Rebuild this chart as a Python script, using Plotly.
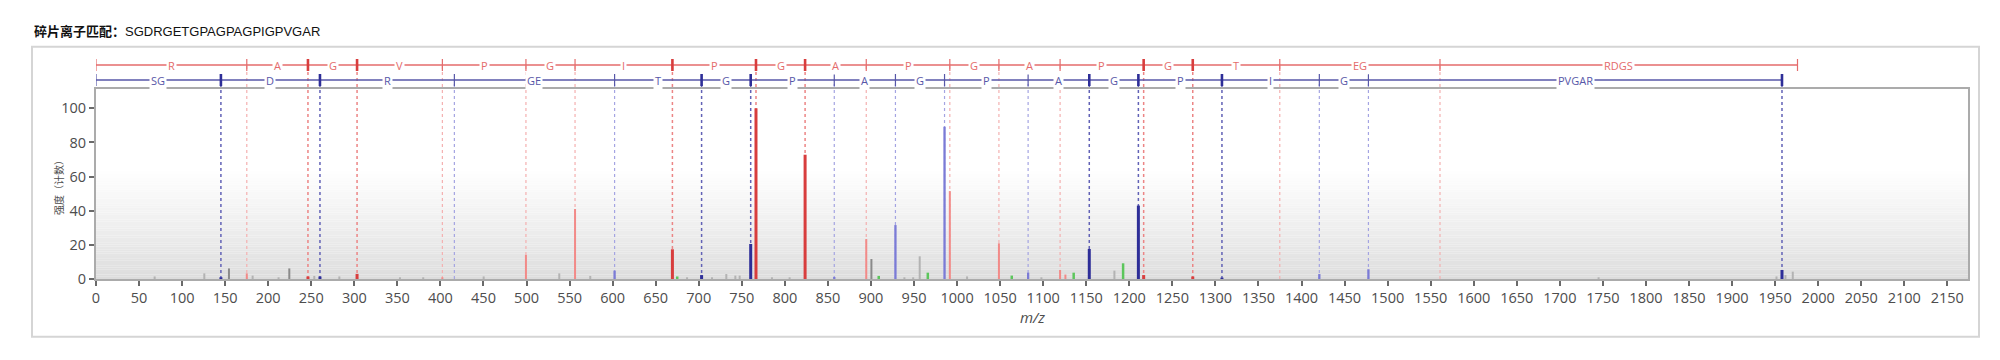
import plotly.graph_objects as go

# ---------------- data ----------------
title_bold = "碎片离子匹配："
peptide = "SGDRGETGPAGPAGPIGPVGAR"

# y-ion ladder (red, top row)
y_ion_mz = [0.0, 175.119, 246.156, 303.177, 402.246, 499.299, 556.320, 669.404, 766.457,
            823.478, 894.515, 991.568, 1048.589, 1119.626, 1216.679, 1273.700, 1374.748,
            1560.812, 1975.996]
y_ion_labels = ["R", "A", "G", "V", "P", "G", "I", "P", "G", "A", "P", "G", "A", "P", "G",
                "T", "EG", "RDGS"]
y_ion_strong = [0, 0, 1, 1, 0, 0, 0, 1, 1, 1, 0, 0, 0, 0, 1, 1, 0, 0, 0]

# b-ion ladder (blue, second row)
b_ion_mz = [0.0, 145.061, 260.088, 416.189, 602.253, 703.301, 760.322, 857.375, 928.412,
            985.433, 1082.486, 1153.523, 1210.544, 1307.597, 1420.681, 1477.702, 1957.982]
b_ion_labels = ["SG", "D", "R", "GE", "T", "G", "P", "A", "G", "P", "A", "G", "P", "I", "G",
                "PVGAR"]
b_ion_strong = [0, 1, 1, 0, 0, 1, 1, 0, 0, 0, 0, 1, 1, 1, 0, 0, 1]

# spectrum peaks (m/z, relative intensity)
red_strong_mz = [246.16, 303.18, 669.40, 766.46, 823.48, 1216.68, 1273.70]
red_strong_int = [1.5, 3.0, 17.4, 100.0, 72.8, 2.3, 1.5]
red_weak_mz = [175.12, 402.25, 499.30, 556.32, 894.52, 991.57, 1048.59, 1119.63, 1125.8]
red_weak_int = [3.3, 1.0, 14.1, 41.0, 23.4, 51.5, 20.9, 5.3, 2.6]
blue_strong_mz = [145.06, 260.09, 703.30, 760.32, 1153.52, 1210.54, 1307.60, 1957.98]
blue_strong_int = [1.0, 1.5, 2.3, 20.5, 17.6, 43.0, 0.8, 5.3]
blue_weak_mz = [602.25, 857.38, 928.41, 985.43, 1082.49, 1420.68, 1477.70]
blue_weak_int = [4.9, 1.2, 31.6, 89.2, 3.7, 2.9, 5.7]
green_mz = [675.0, 909.0, 966.0, 1063.5, 1135.4, 1192.8]
green_int = [1.5, 1.8, 3.7, 2.0, 3.7, 9.2]
gray_dark_mz = [154.4, 224.5, 900.5]
gray_dark_int = [6.2, 6.2, 11.7]
gray_light_mz = [68.1, 125.8, 181.9, 212.0, 253.5, 282.6, 353.0, 380.0, 450.2, 538.0, 574.0,
                 686.4, 715.4, 732.0, 742.5, 747.5, 785.0, 805.5, 938.8, 949.0, 956.6,
                 1011.6, 1097.9, 1182.7, 1745.0, 1951.6, 1962.0, 1970.5]
gray_light_int = [1.5, 3.3, 2.0, 1.0, 1.8, 1.5, 1.0, 1.0, 1.5, 3.3, 1.8,
                  1.0, 1.0, 2.9, 2.0, 2.0, 1.0, 1.0, 1.0, 1.0, 13.3,
                  1.5, 1.0, 4.9, 1.0, 1.5, 2.3, 4.3]

x_tick_step = 50
y_tick_vals = [0, 20, 40, 60, 80, 100]

# ---------------- style ----------------
RED = "#e46b6b"
RED_DARK = "#d83d3d"
RED_LIGHT = "#f28a88"
BLUE = "#5757a8"
BLUE_DARK = "#2e2e98"
BLUE_LIGHT = "#7b7bd6"
GREEN = "#5cc65c"
GRAY_D = "#8a8a8a"
GRAY_L = "#b3b3b3"
TXT = "#4d4d4d"

W, H = 2000, 360
ML, MR, MT, MB = 96, 32, 89, 81
PH = H - MT - MB  # plot height in px
PW = W - ML - MR


def py(px_from_top):
    """page y pixel -> paper coordinate"""
    return (H - MB - px_from_top) / PH


def px(px_from_left):
    return (px_from_left - ML) / PW


def sticks(mz, inten):
    xs, ys = [], []
    for m, v in zip(mz, inten):
        xs += [m, m, None]
        ys += [0, v, None]
    return xs, ys


fig = go.Figure()

groups = [
    (gray_light_mz, gray_light_int, GRAY_L, 2),
    (gray_dark_mz, gray_dark_int, GRAY_D, 2),
    (green_mz, green_int, GREEN, 2.5),
    (red_weak_mz, red_weak_int, RED_LIGHT, 2),
    (blue_weak_mz, blue_weak_int, BLUE_LIGHT, 2.3),
    (red_strong_mz, red_strong_int, RED_DARK, 3),
    (blue_strong_mz, blue_strong_int, BLUE_DARK, 3),
]
for mz, inten, col, w in groups:
    xs, ys = sticks(mz, inten)
    fig.add_trace(go.Scatter(x=xs, y=ys, mode="lines", line=dict(color=col, width=w),
                             hoverinfo="skip", showlegend=False))

shapes = []
# gradient background of plot area
nb = 48
top_frac = 0.58
for i in range(nb):
    y0 = top_frac * i / nb
    y1 = top_frac * (i + 1) / nb
    t = (i + 0.5) / nb
    g = int(round(219 + (255 - 219) * (t ** 0.85)))
    shapes.append(dict(type="rect", xref="paper", yref="paper", x0=0, x1=1, y0=y0, y1=y1,
                       fillcolor=f"rgb({g},{g},{g})", line=dict(width=0), layer="below"))

# outer frame
shapes.append(dict(type="rect", xref="paper", yref="paper", x0=px(32), x1=px(1979),
                   y0=py(336.7), y1=py(46.7), line=dict(color="#d5d5d5", width=2),
                   fillcolor="rgba(0,0,0,0)", layer="below"))

RY = py(65)
BY = py(80)
TK = 6.0 / PH

# dotted guide lines
for i in range(1, len(y_ion_mz) - 1):
    strong = y_ion_strong[i]
    shapes.append(dict(type="line", xref="x", yref="paper", x0=y_ion_mz[i], x1=y_ion_mz[i],
                       y0=0, y1=RY, layer="below",
                       line=dict(color="#ec8585" if strong else "#f4b0b0",
                                 width=1.5 if strong else 1.2, dash="dot")))
for i in range(1, len(b_ion_mz)):
    strong = b_ion_strong[i]
    shapes.append(dict(type="line", xref="x", yref="paper", x0=b_ion_mz[i], x1=b_ion_mz[i],
                       y0=0, y1=BY, layer="below",
                       line=dict(color="#6262b6" if strong else "#a4a4e2",
                                 width=1.5 if strong else 1.2, dash="dot")))

# ladders
shapes.append(dict(type="line", xref="x", yref="paper", x0=y_ion_mz[0], x1=y_ion_mz[-1],
                   y0=RY, y1=RY, line=dict(color=RED, width=1.3)))
shapes.append(dict(type="line", xref="x", yref="paper", x0=b_ion_mz[0], x1=b_ion_mz[-1],
                   y0=BY, y1=BY, line=dict(color=BLUE, width=1.3)))
for m, s in zip(y_ion_mz, y_ion_strong):
    shapes.append(dict(type="line", xref="x", yref="paper", x0=m, x1=m, y0=RY - TK, y1=RY + TK,
                       line=dict(color=RED_DARK if s else RED, width=2.6 if s else 1.2)))
for m, s in zip(b_ion_mz, b_ion_strong):
    shapes.append(dict(type="line", xref="x", yref="paper", x0=m, x1=m, y0=BY - TK, y1=BY + TK,
                       line=dict(color=BLUE_DARK if s else BLUE, width=2.6 if s else 1.2)))

annotations = []
for i, lab in enumerate(y_ion_labels):
    annotations.append(dict(x=(y_ion_mz[i] + y_ion_mz[i + 1]) / 2, y=RY, xref="x", yref="paper",
                            text=lab, showarrow=False, bgcolor="white", borderpad=1,
                            font=dict(family="Open Sans", size=11, color=RED),
                            xanchor="center", yanchor="middle"))
for i, lab in enumerate(b_ion_labels):
    annotations.append(dict(x=(b_ion_mz[i] + b_ion_mz[i + 1]) / 2, y=BY, xref="x", yref="paper",
                            text=lab, showarrow=False, bgcolor="white", borderpad=1,
                            font=dict(family="Open Sans", size=11, color=BLUE),
                            xanchor="center", yanchor="middle"))

# title
annotations.append(dict(x=px(32), y=py(32), xref="paper", yref="paper", showarrow=False,
                        xanchor="left", yanchor="middle",
                        text=f"<b>{title_bold}</b>{peptide}",
                        font=dict(family="Liberation Sans, Noto Sans CJK SC", size=13,
                                  color="#111111")))
# y title
annotations.append(dict(x=px(58), y=py(185), xref="paper", yref="paper", showarrow=False,
                        xanchor="center", yanchor="middle", textangle=-90,
                        text="强度（计数）",
                        font=dict(family="Noto Sans CJK SC", size=10, color=TXT)))
# x title
annotations.append(dict(x=0.5, y=py(316.5), xref="paper", yref="paper", showarrow=False,
                        xanchor="center", yanchor="middle", text="<i>m/z</i>",
                        font=dict(family="Open Sans", size=15, color=TXT)))

fig.update_layout(
    width=W, height=H,
    margin=dict(l=ML, r=MR, t=MT, b=MB, pad=0),
    paper_bgcolor="white",
    plot_bgcolor="rgba(0,0,0,0)",
    shapes=shapes,
    annotations=annotations,
    showlegend=False,
    xaxis=dict(range=[0, 2174], tickmode="linear", tick0=0, dtick=x_tick_step,
               ticks="outside", ticklen=5, tickwidth=1.6, tickcolor="#6a6a6a",
               showgrid=False, zeroline=False, showline=True, linecolor="#ababab",
               linewidth=2, mirror=True,
               tickfont=dict(family="Open Sans", size=14.5, color=TXT)),
    yaxis=dict(range=[0, 111.3], tickmode="array", tickvals=y_tick_vals,
               ticks="outside", ticklen=5, tickwidth=1.6, tickcolor="#6a6a6a",
               showgrid=False, zeroline=False, showline=True, linecolor="#ababab",
               linewidth=2, mirror=True,
               tickfont=dict(family="Open Sans", size=14.5, color=TXT)),
)

fig.write_html("out.html", config={"displayModeBar": False},
               post_script="document.body.style.margin='0';document.body.style.overflow='hidden';")
